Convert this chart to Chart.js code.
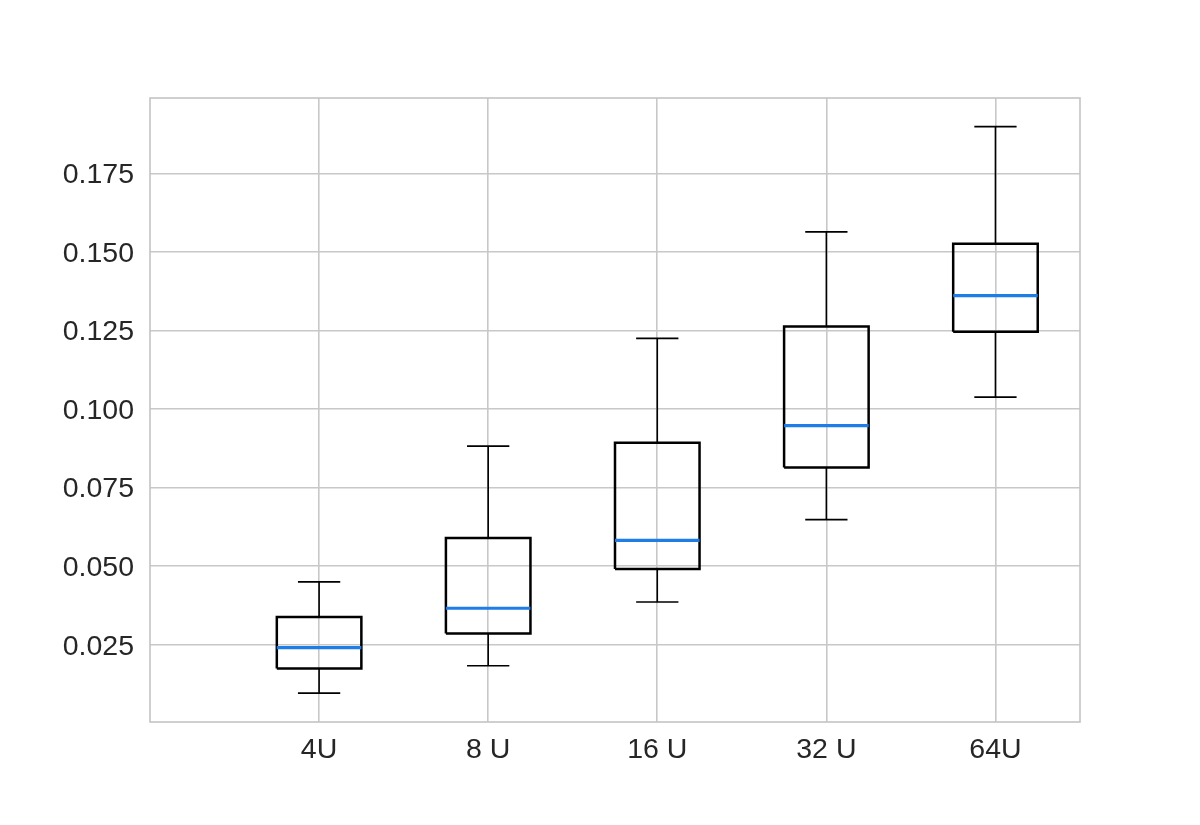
<!DOCTYPE html>
<html>
<head>
<meta charset="utf-8">
<title>Box plot</title>
<script src="https://cdn.jsdelivr.net/npm/chart.js@4.4.1/dist/chart.umd.min.js"></script>
<style>
    body { margin: 0; background: #ffffff; }
    #wrap { width: 1200px; height: 825px; }
</style>
</head>
<body>
<div id="wrap"><canvas id="boxChart" width="1200" height="825"></canvas></div>
<script>
// ===========================
// Données
// ===========================
const categories = ["4U", "8 U", "16 U", "32 U", "64U"];
const positions = [1, 2, 3, 4, 5];
const whiskerLow = [0.0096, 0.0183, 0.0386, 0.0648, 0.1038];
const q1Values = [0.0174, 0.0286, 0.0491, 0.0814, 0.1246];
const medianValues = [0.0241, 0.0366, 0.0582, 0.0947, 0.1361];
const q3Values = [0.0338, 0.0590, 0.0893, 0.1263, 0.1526];
const whiskerHigh = [0.0450, 0.0882, 0.1225, 0.1564, 0.1899];
const yTickValues = [0.025, 0.050, 0.075, 0.100, 0.125, 0.150, 0.175];

const BOX_HALF = 0.25;
const CAP_HALF = 0.125;

// ===========================
// Construction des segments
// ===========================
function gapAfter(x) {
    return { x: x, y: null };
}

const boxPoints = [];
const medianPoints = [];
const whiskerPoints = [];
const capPoints = [];

positions.forEach(function (x, i) {
    const l = x - BOX_HALF, r = x + BOX_HALF;
    boxPoints.push(
        { x: l, y: q1Values[i] }, { x: r, y: q1Values[i] },
        { x: r, y: q3Values[i] }, { x: l, y: q3Values[i] },
        { x: l, y: q1Values[i] }, gapAfter(x)
    );
    medianPoints.push({ x: l, y: medianValues[i] }, { x: r, y: medianValues[i] }, gapAfter(x));
    whiskerPoints.push(
        { x: x, y: q3Values[i] }, { x: x, y: whiskerHigh[i] }, gapAfter(x),
        { x: x, y: q1Values[i] }, { x: x, y: whiskerLow[i] }, gapAfter(x)
    );
    capPoints.push(
        { x: x - CAP_HALF, y: whiskerHigh[i] }, { x: x + CAP_HALF, y: whiskerHigh[i] }, gapAfter(x),
        { x: x - CAP_HALF, y: whiskerLow[i] }, { x: x + CAP_HALF, y: whiskerLow[i] }, gapAfter(x)
    );
});

function segmentDataset(label, data, color, width, order) {
    return {
        label: label,
        data: data,
        showLine: true,
        spanGaps: false,
        borderColor: color,
        backgroundColor: color,
        borderWidth: width,
        borderCapStyle: "butt",
        borderJoinStyle: "miter",
        pointRadius: 0,
        pointHoverRadius: 0,
        fill: false,
        tension: 0,
        order: order
    };
}

// cadre gris autour de la zone de tracé
const framePlugin = {
    id: "frame",
    afterDraw: function (chart) {
        const a = chart.chartArea;
        const ctx = chart.ctx;
        ctx.save();
        ctx.strokeStyle = "#c4c4c4";
        ctx.lineWidth = 1.6;
        ctx.strokeRect(a.left, a.top, a.right - a.left, a.bottom - a.top);
        ctx.restore();
    }
};

const tickFont = { family: "'Liberation Sans', Arial, sans-serif", size: 28.5 };

document.addEventListener("DOMContentLoaded", function () {
    const ctx = document.getElementById("boxChart").getContext("2d");

    new Chart(ctx, {
        type: "scatter",
        data: {
            datasets: [
                segmentDataset("median", medianPoints, "#1f7ee6", 3.2, 0),
                segmentDataset("box", boxPoints, "#000000", 2.5, 1),
                segmentDataset("whisker", whiskerPoints, "#000000", 1.6, 2),
                segmentDataset("cap", capPoints, "#000000", 1.6, 3)
            ]
        },
        options: {
            responsive: false,
            animation: false,
            layout: { padding: { left: 0, right: 120, top: 98, bottom: 0 } },
            plugins: {
                legend: { display: false },
                tooltip: { enabled: false }
            },
            scales: {
                x: {
                    type: "linear",
                    min: 0,
                    max: 5.5,
                    afterBuildTicks: function (scale) {
                        scale.ticks = positions.map(function (p) { return { value: p }; });
                    },
                    afterFit: function (scale) { scale.height = 103; },
                    ticks: {
                        color: "#262626",
                        font: tickFont,
                        padding: 11,
                        maxRotation: 0,
                        autoSkip: false,
                        callback: function (value) {
                            const idx = positions.indexOf(value);
                            return idx >= 0 ? categories[idx] : "";
                        }
                    },
                    grid: { color: "#c8c8c8", lineWidth: 1.6, drawTicks: false },
                    border: { display: false }
                },
                y: {
                    type: "linear",
                    min: 0.0004,
                    max: 0.199,
                    afterBuildTicks: function (scale) {
                        scale.ticks = yTickValues.map(function (v) { return { value: v }; });
                    },
                    afterFit: function (scale) { scale.width = 150; },
                    ticks: {
                        color: "#262626",
                        font: tickFont,
                        padding: 16,
                        labelOffset: 2,
                        autoSkip: false,
                        callback: function (value) { return value.toFixed(3); }
                    },
                    grid: { color: "#c8c8c8", lineWidth: 1.6, drawTicks: false },
                    border: { display: false }
                }
            }
        },
        plugins: [framePlugin]
    });
});
</script>
</body>
</html>
